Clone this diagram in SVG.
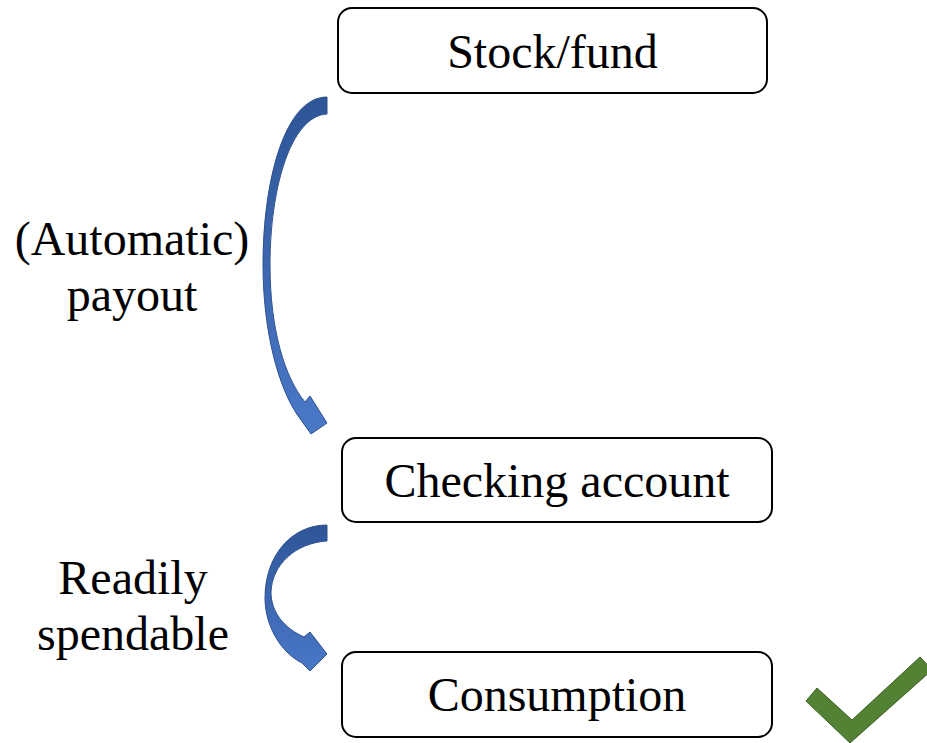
<svg xmlns="http://www.w3.org/2000/svg" width="927" height="743" viewBox="0 0 927 743">
<defs>
<linearGradient id="blueGrad" x1="0" y1="0" x2="0" y2="1">
<stop offset="0" stop-color="#2E5597"/>
<stop offset="1" stop-color="#4A78C8"/>
</linearGradient>
<style>
.box{fill:#FFFFFF;stroke:#000000;stroke-width:2}
.t{font-family:'Times New Roman','Liberation Serif',Tinos,'DejaVu Serif',serif;font-size:48px;fill:#000000;text-anchor:middle}
.arr{fill:url(#blueGrad);stroke:#2F528F;stroke-width:1}
.chk{fill:#548235;stroke:#3B5E24;stroke-width:1}
</style>
</defs>
<rect width="927" height="743" fill="#FFFFFF"/>
<g id="connectors">
<path class="arr" d="M327,97 L327,114 C 290,116 270,190 270,265 C 270,330 285,378 305,402 L310,396 L327,423 L311,434 L301,420 C 278,390 263,330 263,265 C 263,180 285,97 327,97 Z"/>
<path class="arr" d="M327,525 L327,541 C 295,543 272,565 271,592 C 271,612 284,628 304,637 L310,632 L327,654 L310,671 L302,663 C 280,652 265,625 265,598 C 265,555 292,525 327,525 Z"/>
</g>
<g id="node-stock">
<rect class="box" x="338" y="8" width="429" height="85" rx="14"/>
<text class="t" x="552.5" y="68">Stock/fund</text>
</g>
<g id="node-checking">
<rect class="box" x="342" y="438" width="430" height="84" rx="14"/>
<text class="t" x="557" y="497">Checking account</text>
</g>
<g id="node-consumption">
<rect class="box" x="342" y="652" width="430" height="85" rx="14"/>
<text class="t" x="557" y="711">Consumption</text>
</g>
<g id="label-payout">
<text class="t" x="132" y="255">(Automatic)</text>
<text class="t" x="132" y="311">payout</text>
</g>
<g id="label-spendable">
<text class="t" x="133" y="594">Readily</text>
<text class="t" x="133" y="650">spendable</text>
</g>
<g id="checkmark">
<polygon class="chk" points="806,701 817,688 852,720 920,657 932,670 850,743"/>
</g>
</svg>
